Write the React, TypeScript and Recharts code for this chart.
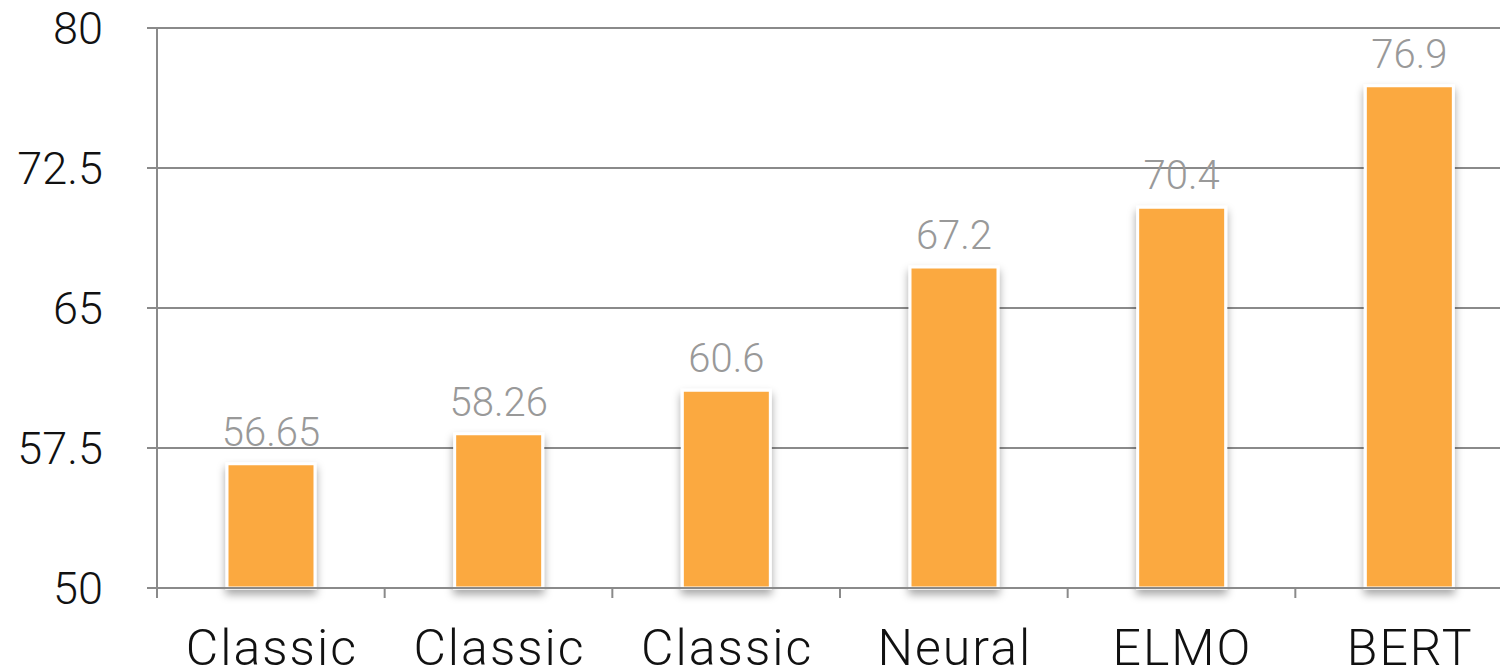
import React from 'react';
import { BarChart, Bar, XAxis, YAxis, CartesianGrid, LabelList } from 'recharts';

const categories = ['Classic', 'Classic', 'Classic', 'Neural', 'ELMO', 'BERT'];
const scores = [56.65, 58.26, 60.6, 67.2, 70.4, 76.9];
const scoreLabels = ['56.65', '58.26', '60.6', '67.2', '70.4', '76.9'];
const yTicks = [50, 57.5, 65, 72.5, 80];

const data = categories.map((c, i) => ({ name: c, value: scores[i], label: scoreLabels[i], idx: i }));

const FONT = "Roboto, 'Liberation Sans', sans-serif";
const BAND = 227.67;

const XTick = (props: any) => {
  const { x, y, payload } = props;
  const left = x - BAND / 2;
  return (
    <g>
      <line x1={left} x2={left} y1={y - 8} y2={y + 2} stroke="#8a8a8a" strokeWidth={2} />
      <text x={x + 1} y={y + 69} textAnchor="middle" fontFamily={FONT} fontWeight={300} fontSize={50} letterSpacing={2} fill="#111">
        {payload.value}
      </text>
    </g>
  );
};

export default function App() {
  return (
    <div style={{ width: 1500, height: 663, overflow: 'hidden', background: '#fff' }}>
      <BarChart width={1530} height={663} data={data} margin={{ top: 20, right: 15, bottom: 3, left: 0 }} barCategoryGap={0}>
        <defs>
          <filter id="barShadow" x="-20%" y="-20%" width="140%" height="140%">
            <feDropShadow dx="0" dy="5" stdDeviation="4" floodColor="#000" floodOpacity="0.35" />
          </filter>
        </defs>
        <CartesianGrid horizontal vertical={false} stroke="#8a8a8a" strokeWidth={2} />
        <XAxis
          dataKey="idx"
          tickFormatter={(i: number) => categories[i]}
          axisLine={{ stroke: '#8a8a8a', strokeWidth: 2 }}
          tickLine={false}
          tick={(p: any) => <XTick {...p} payload={{ value: categories[p.payload.value] }} />}
          height={80}
          interval={0}
        />
        <YAxis
          domain={[50, 80]}
          ticks={yTicks}
          width={149}
          axisLine={{ stroke: '#8a8a8a', strokeWidth: 2 }}
          tickLine={{ stroke: '#8a8a8a', strokeWidth: 2 }}
          tickSize={10}
          tickMargin={44}
          tick={{ fontFamily: FONT, fontWeight: 300, fontSize: 45, fill: '#111' }}
          interval={0}
        />
        <Bar dataKey="value" fill="#FBA940" stroke="#fff" strokeWidth={3} barSize={88} isAnimationActive={false} style={{ filter: 'url(#barShadow)' }}>
          <LabelList dataKey="label" position="top" offset={18} fill="#999" fontFamily={FONT} fontWeight={300} fontSize={40} />
        </Bar>
      </BarChart>
    </div>
  );
}
